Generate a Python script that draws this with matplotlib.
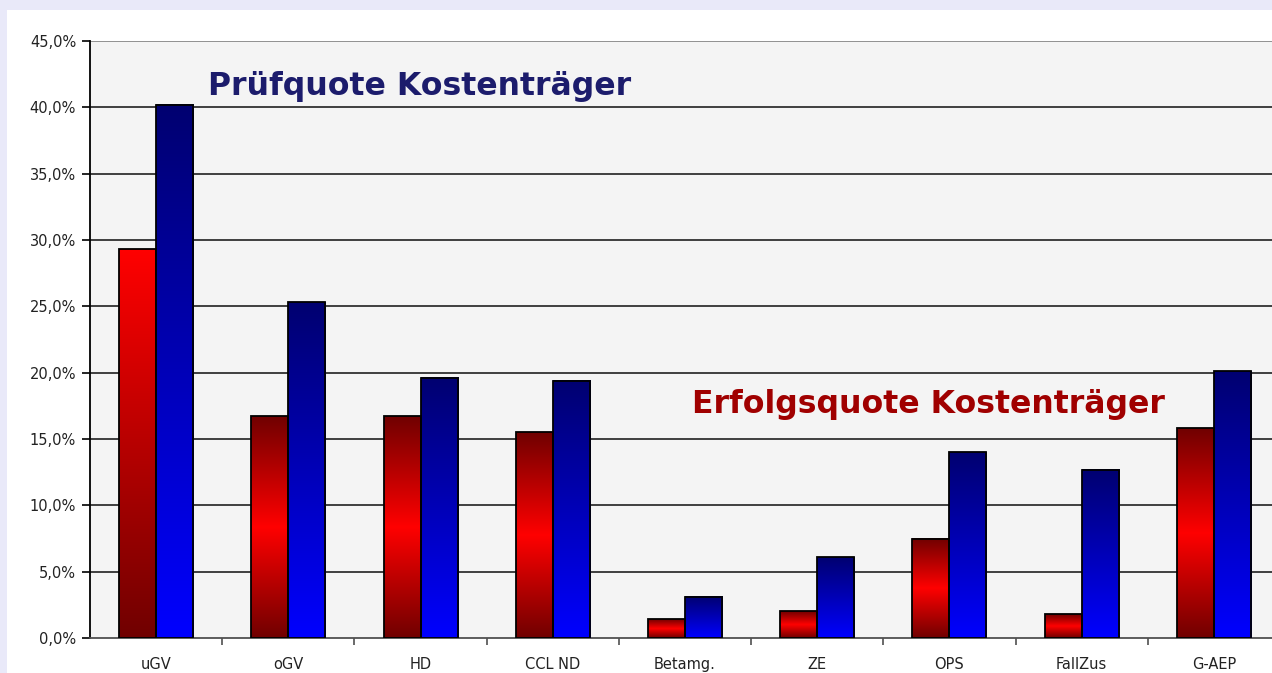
import numpy as np
import matplotlib.pyplot as plt
from matplotlib.colors import LinearSegmentedColormap
from matplotlib.patches import Rectangle

# data (percent)
categories = ["uGV", "oGV", "HD", "CCL ND", "Betamg.", "ZE", "OPS", "FallZus", "G-AEP"]
erfolgsquote = [29.3, 16.7, 16.7, 15.5, 1.4, 2.0, 7.5, 1.8, 15.8]
pruefquote = [40.2, 25.3, 19.6, 19.4, 3.1, 6.1, 14.0, 12.7, 20.1]
yticks = [0, 5, 10, 15, 20, 25, 30, 35, 40, 45]

W, H = 1272, 673
fig = plt.figure(figsize=(W / 100, H / 100), dpi=100)
fig.patch.set_facecolor("#e9e9f9")
fig.add_artist(Rectangle((7 / W, 0), 1, 1 - 10 / H, transform=fig.transFigure,
                         facecolor="white", edgecolor="none", zorder=-10))

ax = fig.add_axes([90 / W, 35 / H, 1190 / W, 597 / H])
ax.set_facecolor("#f4f4f4")

# gradients
red_top = LinearSegmentedColormap.from_list("rt", ["#700000", "#ff0000"])      # bottom -> top
red_mid = LinearSegmentedColormap.from_list("rm", ["#700000", "#ff0000", "#700000"])
blue = LinearSegmentedColormap.from_list("bl", ["#0000ff", "#000070"])          # bottom -> top
grad = np.linspace(0, 1, 256).reshape(-1, 1)

bw = 0.28
x = np.arange(len(categories))
rb = ax.bar(x - bw / 2, erfolgsquote, bw, facecolor="none", edgecolor="black", linewidth=1.3, zorder=4)
bb = ax.bar(x + bw / 2, pruefquote, bw, facecolor="none", edgecolor="black", linewidth=1.3, zorder=4)

for i, bar in enumerate(rb):
    x0, w, h = bar.get_x(), bar.get_width(), bar.get_height()
    cm = red_top if i == 0 else red_mid
    ax.imshow(grad, extent=[x0, x0 + w, 0, h], origin="lower", aspect="auto", cmap=cm, zorder=3)
for bar in bb:
    x0, w, h = bar.get_x(), bar.get_width(), bar.get_height()
    ax.imshow(grad, extent=[x0, x0 + w, 0, h], origin="lower", aspect="auto", cmap=blue, zorder=3)
ax.set_xlim(-0.5, len(categories) - 0.5)
ax.set_ylim(0, 45)

# grid and axes
for v in yticks[1:-1]:
    ax.axhline(v, color="#202020", linewidth=1.2, zorder=1)
ax.axhline(45, color="#808080", linewidth=1.2, zorder=1)
for s in ["top", "right"]:
    ax.spines[s].set_visible(False)
ax.spines["left"].set_linewidth(1.3)
ax.spines["bottom"].set_linewidth(1.3)
ax.spines["bottom"].set_color("#505050")

ax.set_yticks(yticks)
ax.set_yticklabels([f"{v:.1f}%".replace(".", ",") for v in yticks], fontsize=10.5, color="#222222")
ax.tick_params(axis="y", length=6, width=1.2, pad=4)
ax.set_xticks(x)
ax.set_xticklabels(categories, fontsize=10.5, color="#222222")
ax.tick_params(axis="x", length=0, pad=14)
ax.set_xticks(x[:-1] + 0.5, minor=True)
ax.tick_params(axis="x", which="minor", length=5, width=1.2, color="#505050")

fig.text(208 / W, 1 - 87 / H, "Prüfquote Kostenträger", fontsize=22.7, fontweight="bold",
         color="#1c1c6c", va="center", ha="left")
fig.text(692 / W, 1 - 405 / H, "Erfolgsquote Kostenträger", fontsize=22.7, fontweight="bold",
         color="#a00000", va="center", ha="left")

fig.savefig("out.png", dpi=100)
